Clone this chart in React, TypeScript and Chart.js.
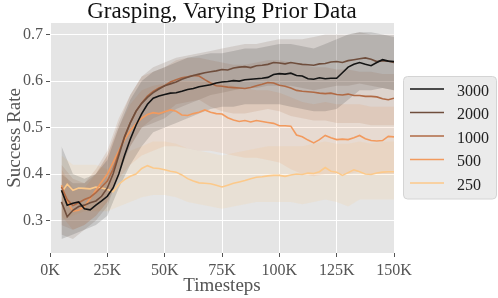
import React, { useEffect, useRef } from "react";
import { Chart, registerables } from "chart.js";

Chart.register(...registerables);

// Timesteps (in thousands) for the mean curves
const stepsK = [
  5, 7.5, 10, 12.5, 15, 17.5, 20, 22.5, 25, 27.5, 30, 32.5, 35, 37.5, 40, 42.5, 45, 47.5, 50,
  52.5, 55, 57.5, 60, 62.5, 65, 67.5, 70, 72.5, 75, 77.5, 80, 82.5, 85, 87.5, 90, 92.5, 95,
  97.5, 100, 102.5, 105, 107.5, 110, 112.5, 115, 117.5, 120, 122.5, 125, 127.5, 130, 132.5,
  135, 137.5, 140, 142.5, 145, 147.5, 150,
];

// Timesteps (in thousands) for the shaded bands
const bandK = [
  5, 10, 15, 20, 25, 30, 35, 40, 45, 50, 55, 60, 65, 70, 75, 80, 85, 90, 95, 100, 105, 110,
  115, 120, 125, 130, 135, 140, 145, 150,
];

const seriesLabels = ["3000", "2000", "1000", "500", "250"];
const lineColors = ["#141414", "#6f4e3d", "#b06a45", "#f29a5e", "#fcc98a"];
const bandColors = [
  "rgba(40,40,40,0.16)",
  "rgba(111,78,61,0.16)",
  "rgba(176,106,69,0.15)",
  "rgba(242,154,94,0.15)",
  "rgba(252,201,138,0.17)",
];

const mean3000 = [
  0.365, 0.333, 0.337, 0.34, 0.325, 0.323, 0.333, 0.342, 0.352, 0.37, 0.4, 0.44, 0.475, 0.505,
  0.53, 0.55, 0.563, 0.568, 0.571, 0.574, 0.575, 0.578, 0.582, 0.584, 0.588, 0.59, 0.592, 0.596,
  0.598, 0.599, 0.601, 0.6, 0.603, 0.604, 0.605, 0.606, 0.608, 0.614, 0.616, 0.615, 0.617,
  0.612, 0.611, 0.605, 0.604, 0.607, 0.605, 0.606, 0.606, 0.618, 0.63, 0.636, 0.64, 0.636,
  0.633, 0.64, 0.646, 0.643, 0.642,
];
const mean2000 = [
  0.34, 0.308, 0.322, 0.33, 0.333, 0.338, 0.342, 0.352, 0.37, 0.4, 0.44, 0.48, 0.51, 0.535,
  0.552, 0.565, 0.575, 0.583, 0.59, 0.594, 0.598, 0.604, 0.608, 0.612, 0.615, 0.618, 0.62,
  0.622, 0.625, 0.624, 0.628, 0.63, 0.631, 0.629, 0.633, 0.634, 0.636, 0.64, 0.639, 0.637,
  0.64, 0.638, 0.636, 0.635, 0.634, 0.637, 0.638, 0.641, 0.642, 0.64, 0.644, 0.646, 0.648,
  0.65, 0.647, 0.642, 0.644, 0.643, 0.64,
];
const mean1000 = [
  0.372, 0.345, 0.332, 0.338, 0.345, 0.35, 0.36, 0.372, 0.385, 0.41, 0.445, 0.48, 0.51, 0.535,
  0.553, 0.568, 0.578, 0.585, 0.59, 0.598, 0.603, 0.607, 0.609, 0.612, 0.611, 0.603, 0.596,
  0.59, 0.589, 0.587, 0.586, 0.585, 0.584, 0.586, 0.59, 0.593, 0.597, 0.596, 0.591, 0.589,
  0.585, 0.58, 0.578, 0.577, 0.576, 0.574, 0.573, 0.574, 0.571, 0.57, 0.572, 0.569, 0.569,
  0.567, 0.567, 0.566, 0.562, 0.56, 0.563,
];
const mean500 = [
  0.376, 0.34, 0.32, 0.322, 0.33, 0.347, 0.365, 0.383, 0.4, 0.425, 0.45, 0.474, 0.493, 0.508,
  0.52, 0.528, 0.532, 0.53, 0.534, 0.538, 0.535, 0.527, 0.526, 0.53, 0.533, 0.538, 0.533, 0.53,
  0.529, 0.521, 0.516, 0.513, 0.515, 0.512, 0.515, 0.513, 0.511, 0.509, 0.504, 0.504, 0.503,
  0.484, 0.48, 0.473, 0.467, 0.474, 0.483, 0.478, 0.474, 0.475, 0.474, 0.478, 0.483, 0.476,
  0.472, 0.471, 0.472, 0.481, 0.48,
];
const mean250 = [
  0.36, 0.378, 0.365, 0.37, 0.369, 0.368, 0.372, 0.37, 0.367, 0.362, 0.378, 0.388, 0.395, 0.4,
  0.412, 0.418, 0.413, 0.412, 0.409, 0.406, 0.404, 0.398, 0.39, 0.385, 0.381, 0.38, 0.379,
  0.376, 0.372, 0.376, 0.38, 0.383, 0.386, 0.39, 0.393, 0.394, 0.396, 0.397, 0.397, 0.395,
  0.398, 0.4, 0.399, 0.402, 0.401, 0.405, 0.414, 0.406, 0.404, 0.397, 0.403, 0.409, 0.405, 0.4,
  0.399, 0.402, 0.404, 0.405, 0.405,
];

const hi3000 = [
  0.46, 0.4, 0.39, 0.4, 0.43, 0.5, 0.56, 0.6, 0.62, 0.63, 0.64, 0.65, 0.655, 0.66, 0.66, 0.665,
  0.67, 0.67, 0.675, 0.68, 0.68, 0.675, 0.67, 0.68, 0.69, 0.7, 0.705, 0.705, 0.7, 0.695,
];
const lo3000 = [
  0.26, 0.27, 0.28, 0.29, 0.31, 0.37, 0.42, 0.46, 0.49, 0.5, 0.51, 0.52, 0.53, 0.54, 0.545,
  0.545, 0.55, 0.55, 0.55, 0.55, 0.545, 0.54, 0.535, 0.535, 0.54, 0.56, 0.58, 0.58, 0.585, 0.58,
];
const hi2000 = [
  0.4, 0.38, 0.38, 0.4, 0.44, 0.51, 0.57, 0.61, 0.63, 0.64, 0.65, 0.655, 0.66, 0.665, 0.67,
  0.675, 0.68, 0.68, 0.685, 0.69, 0.69, 0.69, 0.695, 0.7, 0.7, 0.7, 0.705, 0.7, 0.7, 0.7,
];
const lo2000 = [
  0.27, 0.26, 0.28, 0.3, 0.33, 0.4, 0.46, 0.5, 0.51, 0.52, 0.54, 0.55, 0.56, 0.57, 0.575, 0.58,
  0.585, 0.585, 0.59, 0.59, 0.59, 0.585, 0.58, 0.585, 0.59, 0.59, 0.595, 0.59, 0.585, 0.58,
];
const hi1000 = [
  0.42, 0.39, 0.38, 0.41, 0.45, 0.52, 0.57, 0.61, 0.62, 0.63, 0.645, 0.65, 0.65, 0.645, 0.64,
  0.635, 0.635, 0.64, 0.645, 0.645, 0.64, 0.635, 0.63, 0.63, 0.625, 0.625, 0.62, 0.62, 0.615,
  0.615,
];
const lo1000 = [
  0.29, 0.28, 0.29, 0.31, 0.34, 0.41, 0.46, 0.5, 0.52, 0.53, 0.55, 0.555, 0.56, 0.545, 0.535,
  0.53, 0.53, 0.535, 0.54, 0.535, 0.525, 0.52, 0.515, 0.515, 0.51, 0.51, 0.51, 0.505, 0.505,
  0.505,
];
const hi500 = [
  0.41, 0.37, 0.37, 0.4, 0.44, 0.5, 0.55, 0.58, 0.59, 0.595, 0.6, 0.6, 0.6, 0.6, 0.595, 0.59,
  0.585, 0.58, 0.58, 0.575, 0.565, 0.555, 0.55, 0.555, 0.55, 0.55, 0.55, 0.545, 0.545, 0.545,
];
const lo500 = [
  0.31, 0.28, 0.29, 0.31, 0.34, 0.39, 0.42, 0.44, 0.45, 0.46, 0.46, 0.455, 0.45, 0.45, 0.445,
  0.44, 0.435, 0.435, 0.43, 0.425, 0.41, 0.4, 0.395, 0.4, 0.4, 0.4, 0.405, 0.4, 0.4, 0.4,
];
const hi250 = [
  0.44, 0.42, 0.42, 0.42, 0.41, 0.43, 0.45, 0.46, 0.47, 0.47, 0.465, 0.455, 0.45, 0.445, 0.44,
  0.445, 0.45, 0.455, 0.46, 0.46, 0.46, 0.46, 0.465, 0.47, 0.465, 0.465, 0.47, 0.465, 0.47,
  0.47,
];
const lo250 = [
  0.3, 0.31, 0.32, 0.32, 0.32, 0.33, 0.34, 0.35, 0.355, 0.355, 0.35, 0.34, 0.335, 0.33, 0.325,
  0.33, 0.335, 0.34, 0.34, 0.34, 0.34, 0.335, 0.34, 0.345, 0.34, 0.33, 0.345, 0.345, 0.345,
  0.345,
];

const means = [mean3000, mean2000, mean1000, mean500, mean250];
const his = [hi3000, hi2000, hi1000, hi500, hi250];
const los = [lo3000, lo2000, lo1000, lo500, lo250];

const xTicksK = [0, 25, 50, 75, 100, 125, 150];
const yTicks = [0.3, 0.4, 0.5, 0.6, 0.7];

const titleText = "Grasping, Varying Prior Data";
const xTitle = "Timesteps";
const yTitle = "Success Rate";
const SERIF = '"Liberation Serif", "Times New Roman", serif';

const decorPlugin = {
  id: "decor",
  beforeDraw(chart: any) {
    const { ctx, chartArea: a } = chart;
    ctx.save();
    ctx.fillStyle = "#e5e5e5";
    ctx.fillRect(a.left, a.top, a.right - a.left, a.bottom - a.top);
    ctx.restore();
  },
  afterDraw(chart: any) {
    const { ctx, chartArea: a } = chart;
    ctx.save();
    // title
    ctx.fillStyle = "#111";
    ctx.font = `23px ${SERIF}`;
    ctx.textAlign = "center";
    ctx.textBaseline = "alphabetic";
    ctx.fillText(titleText, (a.left + a.right) / 2, 17.5);
    // axis titles
    ctx.fillStyle = "#555";
    ctx.font = `19px ${SERIF}`;
    ctx.fillText(xTitle, (a.left + a.right) / 2, 291);
    ctx.save();
    ctx.translate(20, (a.top + a.bottom) / 2);
    ctx.rotate(-Math.PI / 2);
    ctx.fillText(yTitle, 0, 0);
    ctx.restore();
    // legend
    const bx = 403.5, by = 76.5, bw = 93, bh = 122.5, r = 4;
    ctx.beginPath();
    ctx.moveTo(bx + r, by);
    ctx.lineTo(bx + bw - r, by);
    ctx.arcTo(bx + bw, by, bx + bw, by + r, r);
    ctx.lineTo(bx + bw, by + bh - r);
    ctx.arcTo(bx + bw, by + bh, bx + bw - r, by + bh, r);
    ctx.lineTo(bx + r, by + bh);
    ctx.arcTo(bx, by + bh, bx, by + bh - r, r);
    ctx.lineTo(bx, by + r);
    ctx.arcTo(bx, by, bx + r, by, r);
    ctx.closePath();
    ctx.fillStyle = "#ebebeb";
    ctx.fill();
    ctx.strokeStyle = "#d4d4d4";
    ctx.lineWidth = 1;
    ctx.stroke();
    ctx.font = `16px ${SERIF}`;
    ctx.textAlign = "left";
    seriesLabels.forEach((lab, i) => {
      const y = 89 + i * 23.5;
      ctx.strokeStyle = lineColors[i];
      ctx.lineWidth = 1.6;
      ctx.beginPath();
      ctx.moveTo(410, y);
      ctx.lineTo(444, y);
      ctx.stroke();
      ctx.fillStyle = "#222";
      ctx.fillText(lab, 457, y + 6.5);
    });
    ctx.restore();
  },
};

export default function App() {
  const ref = useRef<HTMLCanvasElement | null>(null);

  useEffect(() => {
    document.body.style.margin = "0";
    const canvas = ref.current;
    if (!canvas) return;

    const lineSets = seriesLabels.map((lab, i) => ({
      label: lab,
      data: stepsK.map((k, j) => ({ x: k * 1000, y: means[i][j] })),
      borderColor: lineColors[i],
      borderWidth: 1.6,
      pointRadius: 0,
      fill: false,
      tension: 0,
    }));
    const nLines = lineSets.length;
    const bandSets: any[] = [];
    seriesLabels.forEach((lab, i) => {
      const loIndex = nLines + bandSets.length;
      bandSets.push({
        label: lab + " lo",
        data: bandK.map((k, j) => ({ x: k * 1000, y: los[i][j] })),
        borderWidth: 0,
        borderColor: "rgba(0,0,0,0)",
        pointRadius: 0,
        fill: false,
      });
      bandSets.push({
        label: lab + " hi",
        data: bandK.map((k, j) => ({ x: k * 1000, y: his[i][j] })),
        borderWidth: 0,
        borderColor: "rgba(0,0,0,0)",
        backgroundColor: bandColors[i],
        pointRadius: 0,
        fill: { target: loIndex },
      });
    });

    const tickFont = { family: SERIF, size: 16 };

    const chart = new Chart(canvas, {
      type: "line",
      data: { datasets: [...lineSets, ...bandSets] as any },
      options: {
        animation: false,
        responsive: false,
        events: [],
        layout: { padding: { top: 23, right: 104, left: 0, bottom: 0 } },
        plugins: {
          legend: { display: false },
          title: { display: false },
          tooltip: { enabled: false },
          filler: { propagate: false },
        },
        scales: {
          x: {
            type: "linear",
            min: 0,
            max: 150000,
            afterBuildTicks: (s: any) => {
              s.ticks = xTicksK.map((k) => ({ value: k * 1000 }));
            },
            afterFit: (s: any) => {
              s.height = 45;
            },
            ticks: {
              callback: (v: any) => `${Math.round(Number(v) / 1000)}K`,
              font: tickFont,
              color: "#555",
              padding: 4,
              maxRotation: 0,
            },
            grid: { color: "#ffffff", lineWidth: 1, tickLength: 4, tickColor: "#555" },
            border: { display: false },
          },
          y: {
            type: "linear",
            min: 0.23,
            max: 0.725,
            afterBuildTicks: (s: any) => {
              s.ticks = yTicks.map((v) => ({ value: v }));
            },
            afterFit: (s: any) => {
              s.width = 50;
            },
            ticks: {
              callback: (v: any) => Number(v).toFixed(1),
              font: tickFont,
              color: "#555",
              padding: 3,
            },
            grid: { color: "#ffffff", lineWidth: 1, tickLength: 4, tickColor: "#555" },
            border: { display: false },
          },
        },
      },
      plugins: [decorPlugin],
    });
    return () => chart.destroy();
  }, []);

  return (
    <div style={{ position: "absolute", left: 0, top: 0, width: 498, height: 298 }}>
      <canvas ref={ref} width={498} height={298} style={{ display: "block" }} />
    </div>
  );
}
